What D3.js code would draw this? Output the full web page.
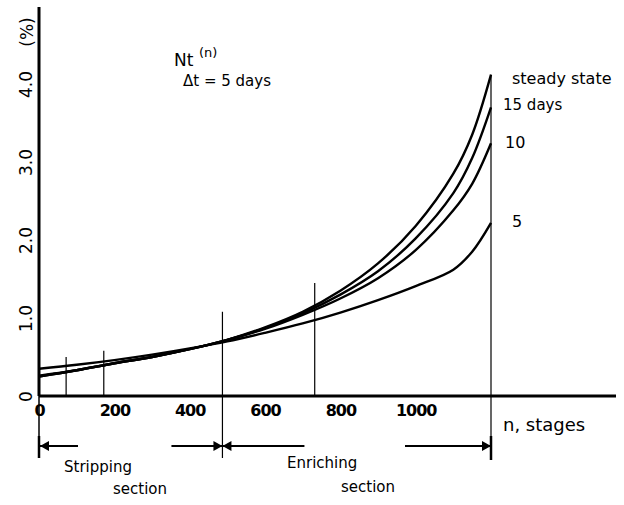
<!DOCTYPE html>
<html>
<head>
<meta charset="utf-8">
<script src="https://cdn.jsdelivr.net/npm/d3@7"></script>
<style>
  body { margin: 0; background: #fff; }
  svg text { font-family: "DejaVu Sans", sans-serif; fill: #000; }
</style>
</head>
<body>
<svg id="chart"></svg>
<script>
// stages (n) where curves were read
var stages = [0, 100, 200, 300, 400, 500, 600, 700, 800, 900, 1000, 1100, 1150, 1200];
// Nt(n) in %
var steadyState = [0.25, 0.33, 0.42, 0.50, 0.60, 0.72, 0.88, 1.08, 1.35, 1.70, 2.18, 2.85, 3.35, 4.12];
var days15      = [0.25, 0.33, 0.42, 0.50, 0.60, 0.72, 0.87, 1.06, 1.30, 1.60, 2.02, 2.60, 3.05, 3.70];
var days10      = [0.26, 0.33, 0.42, 0.50, 0.60, 0.72, 0.86, 1.04, 1.25, 1.51, 1.87, 2.38, 2.72, 3.24];
var days5       = [0.35, 0.40, 0.46, 0.53, 0.61, 0.70, 0.81, 0.93, 1.07, 1.23, 1.41, 1.62, 1.85, 2.22];
var curveLabels = ["steady state", "15 days", "10", "5"];

var xTicks = [0, 200, 400, 600, 800, 1000];
var yTicks = [0, 1, 2, 3, 4];
var yTickLabels = ["0", "1.0", "2.0", "3.0", "4.0"];

// vertical marker lines: stage and top value
var markerStages = [72, 172, 487, 732, 1200];
var markerTops = [0.5, 0.58, 1.08, 1.45, 4.12];
var sectionEdges = [0, 487, 1200];

var W = 624, H = 505;
var svg = d3.select("#chart").attr("width", W).attr("height", H);

var x = d3.scaleLinear().domain([0, 1200]).range([39, 491]);
var y = d3.scaleLinear().domain([0, 4]).range([396, 84]);

var belowY = 458;   // how far the section boundaries go down
var arrowY = 446;

// vertical marker lines
markerStages.forEach(function (n, i) {
    var boundary = sectionEdges.indexOf(n) >= 0;
    svg.append("line")
        .attr("x1", x(n)).attr("x2", x(n))
        .attr("y1", y(markerTops[i]))
        .attr("y2", boundary ? belowY : y(0))
        .attr("stroke", "#000")
        .attr("stroke-width", 1.2);
});

// axes
svg.append("line")
    .attr("x1", x(0)).attr("x2", 616)
    .attr("y1", y(0)).attr("y2", y(0))
    .attr("stroke", "#000").attr("stroke-width", 3);
svg.append("line")
    .attr("x1", x(0)).attr("x2", x(0))
    .attr("y1", 7).attr("y2", y(0))
    .attr("stroke", "#000").attr("stroke-width", 3);
svg.append("line")
    .attr("x1", x(0)).attr("x2", x(0))
    .attr("y1", y(0)).attr("y2", belowY)
    .attr("stroke", "#000").attr("stroke-width", 1.5);

var xAxis = svg.append("g")
    .attr("transform", "translate(0," + y(0) + ")")
    .call(d3.axisBottom(x).tickValues(xTicks).tickSize(0).tickPadding(9).tickFormat(d3.format("d")));
xAxis.select(".domain").remove();
xAxis.selectAll("text")
    .style("font-family", "DejaVu Sans")
    .style("font-size", "16px")
    .style("font-weight", "bold")
    .style("letter-spacing", "-1px");

var yAxis = svg.append("g")
    .attr("transform", "translate(" + x(0) + ",0)")
    .call(d3.axisLeft(y).tickValues(yTicks).tickSize(0).tickFormat(function (d, i) { return yTickLabels[i]; }));
yAxis.select(".domain").remove();
yAxis.selectAll(".tick text")
    .attr("x", 0).attr("dy", 0)
    .attr("transform", "translate(-13,0) rotate(-90)")
    .attr("text-anchor", "middle")
    .attr("dominant-baseline", "central")
    .style("font-family", "DejaVu Sans")
    .style("font-size", "17px");

svg.append("text")
    .attr("transform", "translate(27,32) rotate(-90)")
    .attr("text-anchor", "middle")
    .attr("dominant-baseline", "central")
    .style("font-size", "17px")
    .text("(%)");

// curves
var series = [steadyState, days15, days10, days5];
var line = d3.line()
    .x(function (d, i) { return x(stages[i]); })
    .y(function (d) { return y(d); })
    .curve(d3.curveCatmullRom.alpha(0.5));
svg.selectAll("path.curve")
    .data(series)
    .enter()
    .append("path")
    .attr("class", "curve")
    .attr("d", line)
    .attr("fill", "none")
    .attr("stroke", "#000")
    .attr("stroke-width", 2.4);

// curve labels at the right end
var labelPos = [[512, 84], [503, 110], [505, 148], [512, 227]];
var labelSize = [16, 15, 16, 16];
curveLabels.forEach(function (t, i) {
    svg.append("text")
        .attr("x", labelPos[i][0]).attr("y", labelPos[i][1])
        .style("font-size", labelSize[i] + "px")
        .text(t);
});

// title
svg.append("text").attr("x", 174).attr("y", 66).style("font-size", "17px").text("Nt");
svg.append("text").attr("x", 199).attr("y", 57).style("font-size", "13px").text("(n)");
svg.append("text").attr("x", 183).attr("y", 86).style("font-size", "15px").text("\u0394t = 5 days");

// x label
svg.append("text").attr("x", 503).attr("y", 431).style("font-size", "18px").text("n, stages");

// section arrows
function arrowHead(px, dir) {
    svg.append("path")
        .attr("d", "M" + px + "," + arrowY + "l" + (-dir * 9) + ",-5 l0,10 z")
        .attr("fill", "#000");
}
function seg(a, b) {
    svg.append("line")
        .attr("x1", a).attr("x2", b)
        .attr("y1", arrowY).attr("y2", arrowY)
        .attr("stroke", "#000").attr("stroke-width", 2);
}
var s0 = x(sectionEdges[0]), s1 = x(sectionEdges[1]), s2 = x(sectionEdges[2]);
seg(s0, s0 + 39); arrowHead(s0 + 1, -1);
seg(s1 - 51, s1); arrowHead(s1, 1);
seg(s1, s1 + 82); arrowHead(s1, -1);
seg(s2 - 86, s2); arrowHead(s2, 1);
svg.append("line")
    .attr("x1", s2).attr("x2", s2)
    .attr("y1", arrowY - 10).attr("y2", arrowY + 14)
    .attr("stroke", "#000").attr("stroke-width", 2.5);
svg.append("line")
    .attr("x1", s0).attr("x2", s0)
    .attr("y1", arrowY - 10).attr("y2", arrowY + 12)
    .attr("stroke", "#000").attr("stroke-width", 2.5);

svg.append("text").attr("x", 64).attr("y", 472).style("font-size", "15px").text("Stripping");
svg.append("text").attr("x", 113).attr("y", 494).style("font-size", "15px").text("section");
svg.append("text").attr("x", 287).attr("y", 468).style("font-size", "15px").text("Enriching");
svg.append("text").attr("x", 341).attr("y", 492).style("font-size", "15px").text("section");
</script>
</body>
</html>
